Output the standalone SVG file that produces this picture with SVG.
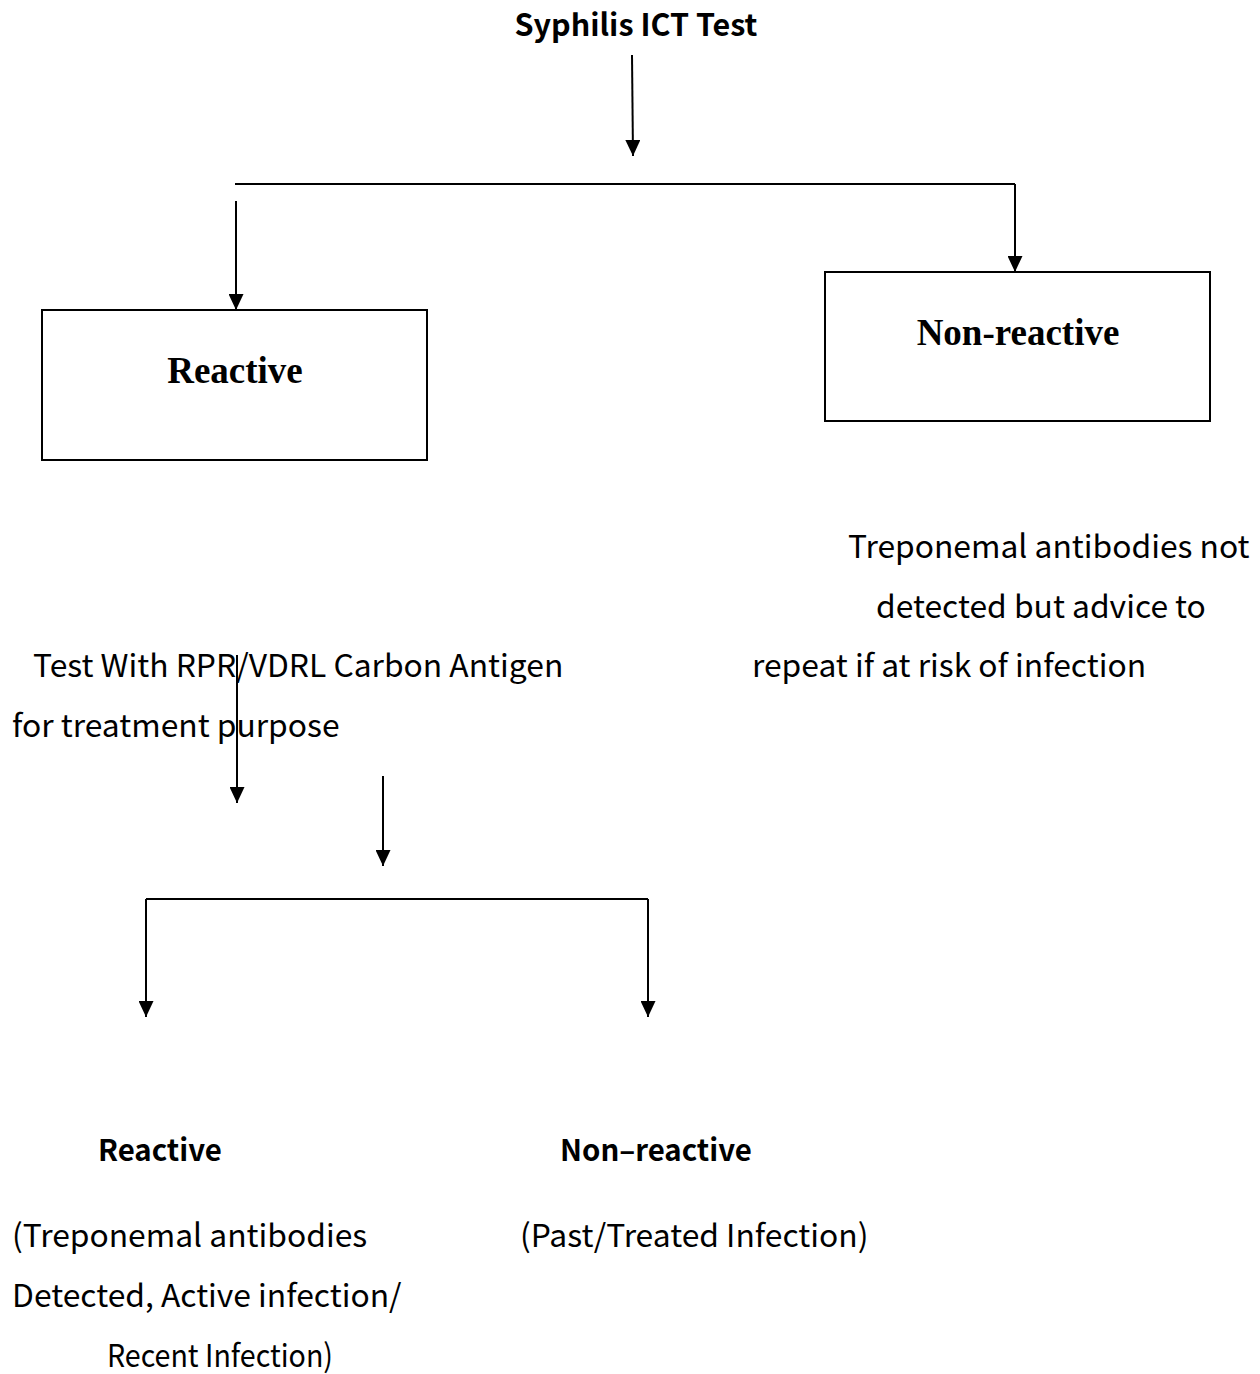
<svg xmlns="http://www.w3.org/2000/svg" width="1260" height="1374" viewBox="0 0 1260 1374">
<style>
.t{font-family:"Noto Sans CJK KR","Noto Sans",sans-serif;font-size:31.8px;fill:#000}
.b{font-family:"Noto Sans CJK KR","Noto Sans",sans-serif;font-size:29.4px;font-weight:bold;fill:#000}
.s{font-family:"Liberation Serif","Times New Roman",serif;font-size:37px;font-weight:bold;fill:#000}
.box{fill:#fff;stroke:#000;stroke-width:2}
.c line{stroke:#000;stroke-width:2}
</style>
<defs>
<marker id="ah" markerWidth="16" markerHeight="15" refX="16" refY="7.5" orient="auto" markerUnits="userSpaceOnUse" viewBox="0 0 16 15">
<path d="M0,0 L16,7.5 L0,15 Z" fill="#000"/>
</marker>
</defs>
<rect width="1260" height="1374" fill="#fff"/>
<g id="title"><text class="b" x="636" y="36" text-anchor="middle" style="font-size:30.5px">Syphilis ICT Test</text></g>
<g id="reactive1"><rect class="box" x="42" y="310" width="385" height="150"/><text class="s" x="235" y="383" text-anchor="middle">Reactive</text></g>
<g id="nonreactive1"><rect class="box" x="825" y="272" width="385" height="149"/><text class="s" x="1018" y="345" text-anchor="middle">Non-reactive</text></g>
<g id="note-nonreactive"><text class="t" x="848" y="558">Treponemal antibodies not</text><text class="t" x="876" y="618">detected but advice to</text><text class="t" x="752" y="677">repeat if at risk of infection</text></g>
<g id="rpr"><text class="t" x="33" y="677">Test With RPR/VDRL Carbon Antigen</text><text class="t" x="12" y="737">for treatment purpose</text></g>
<g id="reactive2"><text class="b" x="98" y="1161">Reactive</text></g>
<g id="nonreactive2"><text class="b" x="560" y="1161">Non–reactive</text></g>
<g id="reactive2-note"><text class="t" x="12" y="1247">(Treponemal antibodies</text><text class="t" x="12" y="1307">Detected, Active infection/</text><text class="t" x="107" y="1367" textLength="226" lengthAdjust="spacingAndGlyphs">Recent Infection)</text></g>
<g id="nonreactive2-note"><text class="t" x="520" y="1247">(Past/Treated Infection)</text></g>
<g class="c" id="connectors">
<line x1="632" y1="55" x2="633" y2="156" marker-end="url(#ah)"/>
<line x1="235" y1="184" x2="1015" y2="184"/>
<line x1="236" y1="201" x2="236" y2="310" marker-end="url(#ah)"/>
<line x1="1015" y1="184" x2="1015" y2="272" marker-end="url(#ah)"/>
<line x1="237" y1="655" x2="237" y2="803" marker-end="url(#ah)"/>
<line x1="383" y1="776" x2="383" y2="866" marker-end="url(#ah)"/>
<line x1="146" y1="899" x2="648" y2="899"/>
<line x1="146" y1="899" x2="146" y2="1017" marker-end="url(#ah)"/>
<line x1="648" y1="899" x2="648" y2="1017" marker-end="url(#ah)"/>
</g>
</svg>
